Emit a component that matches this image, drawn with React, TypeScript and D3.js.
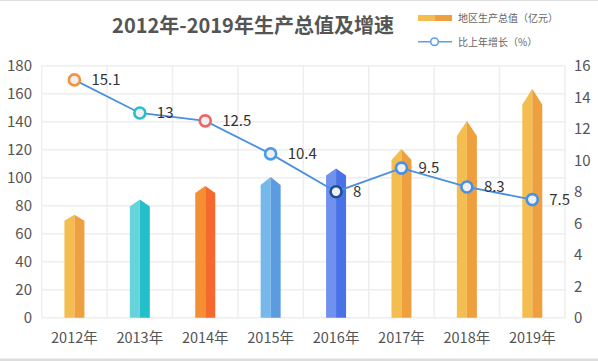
import React from "react";
import * as d3 from "d3";

const categories = ["2012年", "2013年", "2014年", "2015年", "2016年", "2017年", "2018年", "2019年"];
const gdpValues = [73.5, 84.5, 94, 100.5, 106.5, 120.5, 140.5, 163.5];
const growthValues = [15.1, 13, 12.5, 10.4, 8, 9.5, 8.3, 7.5];
const leftTicks = [0, 20, 40, 60, 80, 100, 120, 140, 160, 180];
const rightTicks = [0, 2, 4, 6, 8, 10, 12, 14, 16];
const titleText = "2012年-2019年生产总值及增速";
const legendBar = "地区生产总值（亿元）";
const legendLine = "比上年增长（%）";

const barStyles = [
  { light: "#F4BD4F", dark: "#EFA03E", tip: 6 },
  { light: "#66D4DA", dark: "#23BFCB", tip: 7 },
  { light: "#F58F34", dark: "#F5692C", tip: 7 },
  { light: "#75B9EA", dark: "#5D9BE0", tip: 8 },
  { light: "#7092EE", dark: "#4A72E8", tip: 7 },
  { light: "#F4BD4F", dark: "#EFA03E", tip: 11 },
  { light: "#F4BD4F", dark: "#EFA03E", tip: 15 },
  { light: "#F4BD4F", dark: "#EFA03E", tip: 16 },
];
const markerColors = ["#F5923A", "#23BFCB", "#F06464", "#4A9BE8", "#1B4F93", "#4A90E2", "#4A90E2", "#4A90E2"];

const W = 598;
const H = 361;
const plotL = 41.7;
const plotR = 565;
const plotT = 65.7;
const plotB = 317.7;
const font = "'Noto Sans CJK SC', 'Noto Sans', sans-serif";

export default function App() {
  const x = d3.scaleBand<string>().domain(categories).range([plotL, plotR]).padding(0);
  const yL = d3.scaleLinear().domain([0, 180]).range([plotB, plotT]);
  const yR = d3.scaleLinear().domain([0, 16]).range([plotB, plotT]);
  const bw = 20;

  const line = d3
    .line<number>()
    .x((_, i) => (x(categories[i]) as number) + x.bandwidth() / 2)
    .y((d) => yR(d));

  return (
    <svg width={W} height={H} style={{ position: "fixed", left: 0, top: 0, background: "#fff" }} fontFamily={font}>
      <rect x={0} y={0} width={W} height={1} fill="#dddddd" />
      <rect x={0} y={358.5} width={W} height={3} fill="#dddddd" />
      {/* grid */}
      {leftTicks.map((t) => (
        <line key={"h" + t} x1={plotL} x2={plotR} y1={yL(t)} y2={yL(t)} stroke="#eeeeee" strokeWidth={1.5} />
      ))}
      {[...categories.map((c) => x(c) as number), plotR].map((vx, i) => (
        <line key={"v" + i} x1={vx} x2={vx} y1={plotT} y2={plotB} stroke="#eeeeee" strokeWidth={1.5} />
      ))}
      {/* left axis labels */}
      {leftTicks.map((t) => (
        <text key={"l" + t} x={32} y={yL(t)} dy="0.36em" textAnchor="end" fontSize={15} fill="#555">
          {t}
        </text>
      ))}
      {rightTicks.map((t) => (
        <text key={"r" + t} x={574} y={yR(t)} dy="0.36em" textAnchor="start" fontSize={15} fill="#555">
          {t}
        </text>
      ))}
      {categories.map((c) => (
        <text key={"x" + c} x={(x(c) as number) + x.bandwidth() / 2} y={343} textAnchor="middle" fontSize={14.5} fill="#555">
          {c}
        </text>
      ))}
      {/* bars */}
      {gdpValues.map((v, i) => {
        const cx = (x(categories[i]) as number) + x.bandwidth() / 2;
        const st = barStyles[i];
        const yTip = yL(v);
        const ySh = yTip + st.tip;
        const l = cx - bw / 2;
        const r = cx + bw / 2;
        return (
          <g key={"b" + i}>
            <path d={`M${l},${plotB}L${l},${ySh}L${cx},${yTip}L${cx},${plotB}Z`} fill={st.light} />
            <path d={`M${cx},${plotB}L${cx},${yTip}L${r},${ySh}L${r},${plotB}Z`} fill={st.dark} />
          </g>
        );
      })}
      {/* line */}
      <path d={line(growthValues) || ""} fill="none" stroke="#4A90E2" strokeWidth={1.8} />
      {growthValues.map((v, i) => {
        const cx = (x(categories[i]) as number) + x.bandwidth() / 2;
        const cy = yR(v);
        return (
          <g key={"m" + i}>
            <circle cx={cx} cy={cy} r={5.5} fill="#f0f0f2" stroke={markerColors[i]} strokeWidth={2.6} />
            <text x={cx + 17} y={cy} dy="0.36em" fontSize={15} fill="#333">
              {v}
            </text>
          </g>
        );
      })}
      {/* title */}
      <text x={253} y={33} textAnchor="middle" fontSize={20} fontWeight="bold" fill="#555">
        {titleText}
      </text>
      {/* legend */}
      <rect x={418} y={15} width={17} height={6} fill="#F4BD4F" />
      <rect x={435} y={15} width={17} height={6} fill="#EFA03E" />
      <text x={458} y={18} dy="0.36em" fontSize={10} fill="#666">
        {legendBar}
      </text>
      <line x1={418} x2={452} y1={41.7} y2={41.7} stroke="#5b9ee6" strokeWidth={1.5} />
      <circle cx={434.5} cy={41.7} r={3.8} fill="#fff" stroke="#5b9ee6" strokeWidth={1.5} />
      <text x={458} y={42} dy="0.36em" fontSize={10} fill="#666">
        {legendLine}
      </text>
    </svg>
  );
}
